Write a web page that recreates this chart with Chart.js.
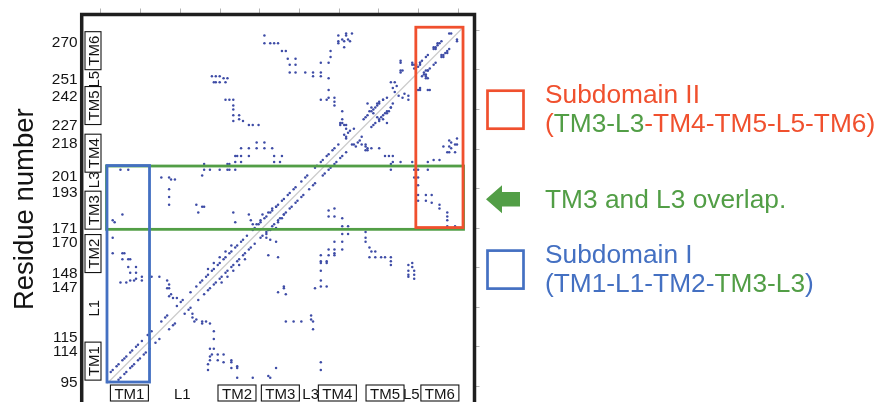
<!DOCTYPE html>
<html>
<head>
<meta charset="utf-8">
<script src="https://cdn.jsdelivr.net/npm/chart.js@4.4.1/dist/chart.umd.min.js"></script>
<style>
  html, body { margin: 0; padding: 0; background: #fff; overflow: hidden; }
  #wrap { position: relative; width: 880px; height: 402px; overflow: hidden; }
  canvas { display: block; }
</style>
</head>
<body>
<div id="wrap"><canvas id="map" width="880" height="416"></canvas></div>
<script>
// ---- residue window (both axes are residue numbers) ----
const X_RANGE = [81.07, 283.0];
const Y_RANGE = [81.5, 283.8];

// ---- contact-matrix index grid, shown as tick marks on the top and right edges ----
const INDEX_TICKS = [0, 20, 40, 60, 80, 100, 120, 140, 160, 180];
const X_INDEX_RANGE = [-9.72, 188.16];
const Y_INDEX_RANGE = [-10.92, 188.06];

// ---- segment boundaries printed on the residue axis ----
const RESIDUE_TICKS = [270, 251, 242, 227, 218, 201, 193, 171, 170, 148, 147, 115, 114, 95];

// ---- secondary-structure segments and their label centres (residue) ----
const SEGMENTS = ['TM1', 'L1', 'TM2', 'TM3', 'L3', 'TM4', 'TM5', 'L5', 'TM6'];
const SEGMENT_CENTERS = [105.6, 132.8, 160.9, 183.2, 198.8, 212.5, 237.0, 250.5, 265.2];

// ---- identity line ----
const DIAGONAL = [94, 276.5];

// ---- subdomain frames, residue ranges [from, to] ----
const OVERLAP_X = [93.82, 277.36];
const OVERLAP_Y = [173.35, 205.9];
const SUBDOMAIN_II_X = [252.84, 277.1];
const SUBDOMAIN_II_Y = [174.28, 277.26];
const SUBDOMAIN_I_X = [94.07, 115.93];
const SUBDOMAIN_I_Y = [94.85, 206.16];

// ---- residue contacts [i, j], i < j; the map is symmetric ----
const HELIX_CONTACTS = [
  // TM1
  [96,100],[97,101],[99,103],[100,104],[102,106],[103,107],[104,108],[106,110],[107,111],[109,113],
  [110,114],[112,116],
  // L1
  [115,119],[117,121],[122,126],[124,128],[125,129],[130,134],[132,136],[133,137],[137,141],
  // TM2
  [140,144],[142,146],[143,147],[145,149],[146,150],[148,152],[149,153],[151,155],[152,156],[154,158],
  [155,159],[157,161],[158,162],[160,164],[161,165],[163,167],[164,168],[166,170],
  [146,153],[149,156],[152,159],[155,162],[158,165],
  // TM3
  [169,173],[170,174],[172,176],[173,177],[175,179],[176,180],[178,182],[179,183],[181,185],[182,186],
  [184,188],[185,189],[187,191],[188,192],[190,194],[191,195],
  // L3
  [194,198],[196,200],[197,201],
  // TM4
  [201,205],[202,206],[204,208],[205,209],[207,211],[208,212],[210,214],[211,215],[213,217],
  // TM5
  [226,230],[227,231],[228,232],[230,234],[231,235],[233,237],[234,238],[236,240],
  // TM6
  [252,256],[253,257],[255,259],[256,260],[258,262],[259,263],[262,266],[263,267],[265,269],[266,270]
];
const TM1_CONTACTS = [
  [101,204],[105,204],[102,181],[97,178],[98,177],[97,169],[97,161],[102,161],[103,161],
  [102,158],[105,158],[106,158],[105,154],[109,154],[106,151],[109,151],
  [101,146],[104,146],[106,147],[108,147],[109,148],[112,147],[112,149],[117,149],[121,149],[125,147],[126,145]
];
const L1_CONTACTS = [
  [126,143],[125,143],[127,140],[126,139],[128,138],[130,138],
  [122,200],[126,200],[127,199],[129,199],[126,194],[126,190],[126,186],[140,186],[143,185],[144,185],[141,182]
];
const TM2_CONTACTS = [
  [159,182],[160,177],[167,181],[168,178],[169,176],[171,176],[173,178],[174,181],[177,182],[179,184],[181,185],
  [171,218],[175,218],[163,215],[167,215],[171,215],[175,215],[179,215],
  [160,211],[161,211],[163,211],[167,211],[180,211],[184,211],[160,208],[163,208],[180,208],[183,208],
  [144,207],[156,207],[157,207],[144,204],[147,204],[152,204],[156,204],[157,204],[160,204],[143,201],
  [155,240],[157,240],[159,240],[159,237],[159,235],[159,232],[162,232],[159,229],[162,230],[164,229],
  [167,227],[169,227],[172,227],
  [148,252],[150,252],[152,252],[154,251],[156,251],[149,249],[150,249],[152,249],[155,249]
];
const TM3_TM4_CONTACTS = [
  [175,273],[175,269],[178,269],[180,269],[182,269],[184,265],[186,265],[187,261],[191,261],[188,258],
  [191,258],[188,254],[191,254],[196,254],[200,254],[200,252],[204,254],[204,252],[208,251],[204,259],
  [208,259],[209,262],[209,265],[208,245],
  [213,273],[213,270],[213,269],[217,274],[217,273],[220,274],[215,271],[216,270],[218,271],[219,270],[216,267],
  [204,240],[207,240],[208,241],[211,241],[211,239],[211,237],[215,234],[215,230],[214,227],[216,227],
  [217,225],[221,225],[216,222],[217,221],[218,223],[219,224],
  [217,227],[215,228],[214,228],[217,220]
];
const TM5_TM6_CONTACTS = [
  [240,249],[242,249],[241,246],[243,247],[242,244],[245,260],[246,255],[245,254],[251,259],[255,259],
  [252,258],[262,267],[264,269],[270,274],[255,258],[253,258],[254,257],[251,258],[263,266],[264,268],
  [271,274],[245,255],[245,259],[228,238],[229,234],[232,236],[233,238],[234,239],[236,240],[238,241],
  [231,233],[230,236]
];
const CONTACTS = [].concat(HELIX_CONTACTS, TM1_CONTACTS, L1_CONTACTS, TM2_CONTACTS, TM3_TM4_CONTACTS, TM5_TM6_CONTACTS);

// ---- styling ----
const FONT = '"Liberation Sans", Arial, Helvetica, sans-serif';
const INK = '#141414';
const RED = 'rgb(240,80,46)';
const GREEN = 'rgb(82,158,70)';
const BLUE = 'rgb(68,112,194)';
const DOT = 'rgb(62,76,166)';

// both halves of the symmetric map
const contactPoints = [];
CONTACTS.forEach(([i, j]) => {
  contactPoints.push({ x: i, y: j });
  contactPoints.push({ x: j, y: i });
});

function frameFromRanges(chart, xr, yr, color) {
  const { ctx, scales: { x, y } } = chart;
  const l = x.getPixelForValue(xr[0]);
  const r = x.getPixelForValue(xr[1]);
  const t = y.getPixelForValue(yr[1]);
  const b = y.getPixelForValue(yr[0]);
  ctx.save();
  ctx.strokeStyle = color;
  ctx.lineWidth = 2.8;
  ctx.strokeRect(l, t, r - l, b - t);
  ctx.restore();
}

function segmentTag(ctx, text, cx, cy, vertical) {
  ctx.save();
  ctx.translate(cx, cy);
  if (vertical) ctx.rotate(-Math.PI / 2);
  ctx.font = '15px ' + FONT;
  const w = ctx.measureText(text).width;
  if (text.startsWith('TM')) {
    ctx.fillStyle = '#fff';
    ctx.fillRect(-w / 2 - 4, -8, w + 8, 16);
    ctx.strokeStyle = INK;
    ctx.lineWidth = 1.1;
    ctx.strokeRect(-w / 2 - 4, -8, w + 8, 16);
  }
  ctx.fillStyle = INK;
  ctx.textAlign = 'center';
  ctx.textBaseline = 'alphabetic';
  ctx.fillText(text, 0, 5.5);
  ctx.restore();
}

function colouredRuns(ctx, x, y, runs) {
  let cx = x;
  runs.forEach(([text, color]) => {
    ctx.fillStyle = color;
    ctx.fillText(text, cx, y);
    cx += ctx.measureText(text).width;
  });
}

const overlay = {
  id: 'overlay',
  afterDatasetsDraw(chart) {
    const { ctx, chartArea: a, scales: { x, y } } = chart;

    // subdomain frames
    frameFromRanges(chart, OVERLAP_X, OVERLAP_Y, GREEN);
    frameFromRanges(chart, SUBDOMAIN_II_X, SUBDOMAIN_II_Y, RED);
    frameFromRanges(chart, SUBDOMAIN_I_X, SUBDOMAIN_I_Y, BLUE);

    // segment tags along the left and bottom edges
    SEGMENTS.forEach((name, k) => {
      const c = SEGMENT_CENTERS[k];
      segmentTag(ctx, name, a.left + 11.3, y.getPixelForValue(c), true);
      segmentTag(ctx, name, x.getPixelForValue(c), a.bottom - 15, false);
    });

    // plot frame
    ctx.save();
    ctx.strokeStyle = '#1e1e1e';
    ctx.lineWidth = 3.5;
    ctx.strokeRect(a.left, a.top, a.right - a.left, a.bottom - a.top);
    ctx.restore();
  },
  afterDraw(chart) {
    const { ctx, scales: { y } } = chart;

    // residue numbers at segment boundaries
    ctx.save();
    ctx.font = '15.4px ' + FONT;
    ctx.fillStyle = INK;
    ctx.textAlign = 'right';
    ctx.textBaseline = 'alphabetic';
    RESIDUE_TICKS.forEach(v => {
      let cy = y.getPixelForValue(v);
      if (RESIDUE_TICKS.includes(v - 1)) cy = y.getPixelForValue(v - 0.5) - 7;
      else if (RESIDUE_TICKS.includes(v + 1)) cy = y.getPixelForValue(v + 0.5) + 7;
      ctx.fillText(String(v), 77.5, cy + 5.5);
    });
    ctx.restore();

    // axis title
    ctx.save();
    ctx.translate(33.3, 209.2);
    ctx.rotate(-Math.PI / 2);
    ctx.font = '27.5px ' + FONT;
    ctx.fillStyle = INK;
    ctx.textAlign = 'center';
    ctx.textBaseline = 'alphabetic';
    ctx.fillText('Residue number', 0, 0);
    ctx.restore();

    // key
    ctx.save();
    ctx.lineWidth = 2.7;
    ctx.strokeStyle = RED;
    ctx.strokeRect(487.5, 90.7, 36, 38);
    ctx.strokeStyle = BLUE;
    ctx.strokeRect(487.5, 250.6, 36, 38);

    ctx.fillStyle = GREEN;
    ctx.beginPath();
    ctx.moveTo(486, 199.2);
    ctx.lineTo(502, 185.2);
    ctx.lineTo(502, 191.9);
    ctx.lineTo(520, 191.9);
    ctx.lineTo(520, 206.5);
    ctx.lineTo(502, 206.5);
    ctx.lineTo(502, 213.2);
    ctx.closePath();
    ctx.fill();

    ctx.font = '26.3px ' + FONT;
    ctx.textAlign = 'left';
    ctx.textBaseline = 'alphabetic';
    colouredRuns(ctx, 545, 103.3, [['Subdomain II', RED]]);
    colouredRuns(ctx, 545, 131.7, [['(', RED], ['TM3-L3', GREEN], ['-TM4-TM5-L5-TM6)', RED]]);
    colouredRuns(ctx, 545, 207.7, [['TM3 and L3 overlap.', GREEN]]);
    colouredRuns(ctx, 545, 263.3, [['Subdomain I', BLUE]]);
    colouredRuns(ctx, 545, 292.3, [['(TM1-L1-TM2-', BLUE], ['TM3-L3', GREEN], [')', BLUE]]);
    ctx.restore();
  }
};

const indexTicks = scale => { scale.ticks = INDEX_TICKS.map(v => ({ value: v })); };

new Chart(document.getElementById('map'), {
  type: 'scatter',
  data: {
    datasets: [
      {
        data: contactPoints,
        backgroundColor: DOT,
        borderWidth: 0,
        pointRadius: 1.25,
        pointHoverRadius: 1.25,
        order: 0
      },
      {
        data: [{ x: DIAGONAL[0], y: DIAGONAL[0] }, { x: DIAGONAL[1], y: DIAGONAL[1] }],
        showLine: true,
        borderColor: 'rgb(205,205,205)',
        borderWidth: 1.3,
        pointRadius: 0,
        order: 1
      }
    ]
  },
  options: {
    responsive: false,
    devicePixelRatio: 1,
    animation: false,
    events: [],
    layout: { padding: 0 },
    plugins: { legend: { display: false }, tooltip: { enabled: false } },
    scales: {
      x: {
        type: 'linear', position: 'bottom', min: X_RANGE[0], max: X_RANGE[1],
        ticks: { display: false }, grid: { display: false }, border: { display: false },
        afterFit: s => { s.height = 8; }
      },
      y: {
        type: 'linear', position: 'left', min: Y_RANGE[0], max: Y_RANGE[1],
        ticks: { display: false }, grid: { display: false }, border: { display: false },
        afterFit: s => { s.width = 81.7; }
      },
      xIndex: {
        type: 'linear', position: 'top', min: X_INDEX_RANGE[0], max: X_INDEX_RANGE[1],
        ticks: { display: false },
        grid: { display: true, drawOnChartArea: false, drawTicks: true, tickLength: 6, tickColor: 'rgb(180,180,180)', tickWidth: 1 },
        border: { display: false },
        afterBuildTicks: indexTicks,
        afterFit: s => { s.height = 14.5; }
      },
      yIndex: {
        type: 'linear', position: 'right', min: Y_INDEX_RANGE[0], max: Y_INDEX_RANGE[1],
        ticks: { display: false },
        grid: { display: true, drawOnChartArea: false, drawTicks: true, tickLength: 5, tickColor: 'rgb(180,180,180)', tickWidth: 1 },
        border: { display: false },
        afterBuildTicks: indexTicks,
        afterFit: s => { s.width = 405.5; }
      }
    }
  },
  plugins: [overlay]
});
</script>
</body>
</html>
